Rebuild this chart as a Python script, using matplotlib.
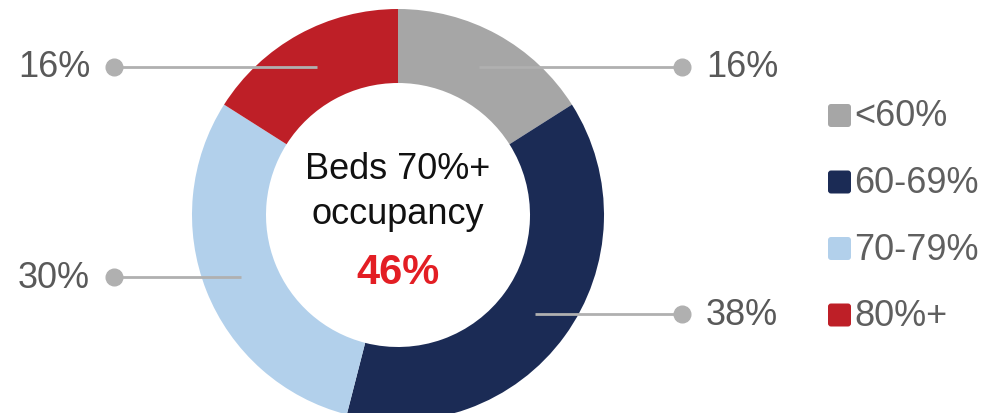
import numpy as np
from matplotlib import pyplot as plt
from matplotlib.patches import FancyBboxPatch

plt.rcParams['font.family'] = ['Liberation Sans', 'DejaVu Sans']

categories = ['<60%', '60-69%', '70-79%', '80%+']
shares = [16, 38, 30, 16]
colors = ['#a6a6a6', '#1b2b55', '#b2d0eb', '#be1f27']
center_title = 'Beds 70%+\noccupancy'
center_value = '46%'

W, H = 983, 414
fig = plt.figure(figsize=(W / 100, H / 100), dpi=100)
ax = fig.add_axes([0, 0, 1, 1])

cx, cy = 398, H - 216
r_out, ring = 206, 74

wedges, _ = ax.pie(
    shares, colors=colors, startangle=90, counterclock=False,
    center=(cx, cy), radius=r_out,
    wedgeprops=dict(width=ring, linewidth=0),
)
ax.set_xlim(0, W)
ax.set_ylim(0, H)
ax.set_aspect('equal')
ax.axis('off')

# leader lines from the middle of each ring segment
r_mid = r_out - ring / 2
start = 0
for val in shares:
    mid = (start + val / 2) / sum(shares) * 2 * np.pi
    start += val
    x0 = cx + r_mid * np.sin(mid)
    y0 = cy + r_mid * np.cos(mid)
    side = 1 if np.sin(mid) > 0 else -1
    x1 = cx + side * 284
    ax.plot([x0, x1], [y0, y0], color='#b0b0b0', lw=2, zorder=3,
            solid_capstyle='butt')
    ax.plot(x1, y0, 'o', color='#b0b0b0', ms=12, zorder=4)
    ax.text(x1 + side * 24, y0, f'{val}%', fontsize=26, color='#595959',
            ha='left' if side > 0 else 'right', va='center')

ax.text(cx, cy + 24, center_title, fontsize=26, color='#111111',
        ha='center', va='center', linespacing=1.38)
ax.text(cx, cy - 57, center_value, fontsize=30, color='#e31e24',
        fontweight='bold', ha='center', va='center')

# legend
for i, (lab, col) in enumerate(zip(categories, colors)):
    y = H - (117 + i * 66.5)
    ax.add_patch(FancyBboxPatch((828, y - 11), 23, 23,
                                boxstyle='round,pad=0,rounding_size=3',
                                fc=col, ec='none'))
    ax.text(854, y, lab, fontsize=26, color='#5f5f5f', ha='left', va='center')

fig.savefig('out.png', dpi=100)
